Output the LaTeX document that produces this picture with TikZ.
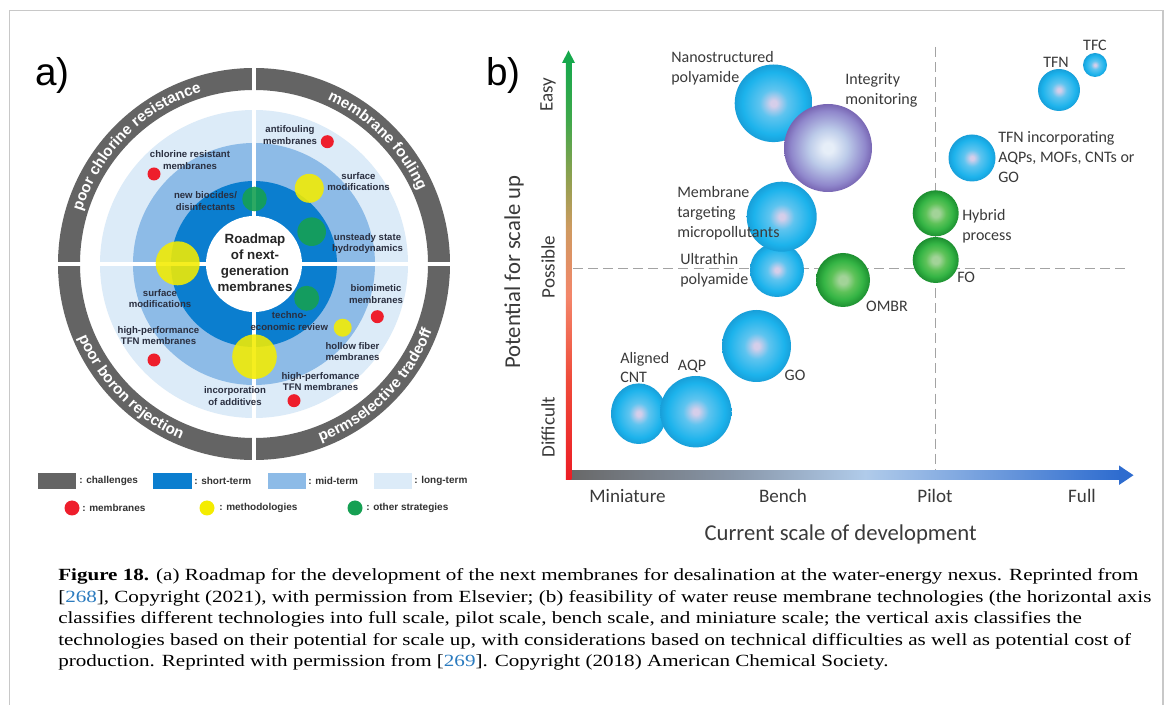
\documentclass[tikz,border=0pt]{standalone}
\usepackage{fontspec}
\usepackage{graphicx}
\setmainfont{Liberation Serif}
\newfontfamily\carlito{Carlito}
\newfontfamily\lsans{Liberation Sans}
\usetikzlibrary{decorations.text}

\definecolor{cgray}{HTML}{646464}
\definecolor{longt}{HTML}{DCEBF8}
\definecolor{midt}{HTML}{8DBBE7}
\definecolor{shortt}{HTML}{0B7ECF}
\definecolor{dred}{HTML}{EE1E2C}
\definecolor{dyel}{HTML}{F4EC00}
\definecolor{dgrn}{HTML}{16A053}
\definecolor{labcol}{HTML}{2A2F40}
\definecolor{legcol}{HTML}{333333}
\definecolor{btext}{HTML}{3A3A3A}
\definecolor{dashcol}{HTML}{A3A3A3}
\definecolor{framecol}{HTML}{C8C8C8}
\definecolor{linkblue}{HTML}{2B7BBF}
\definecolor{cyA}{HTML}{D5CEEA}
\definecolor{cyB}{HTML}{5EC4EF}
\definecolor{cyC}{HTML}{1CB3EC}
\definecolor{cyD}{HTML}{189FD9}
\definecolor{puA}{HTML}{E6EEF8}
\definecolor{puB}{HTML}{BCCBE9}
\definecolor{puC}{HTML}{9088CC}
\definecolor{puD}{HTML}{7866B3}
\definecolor{grA}{HTML}{A2D398}
\definecolor{grB}{HTML}{5EC259}
\definecolor{grC}{HTML}{35B545}
\definecolor{grD}{HTML}{1C8F30}
\definecolor{vr0}{HTML}{EC1C24}
\definecolor{vr1}{HTML}{EF4B3A}
\definecolor{vr2}{HTML}{F3866A}
\definecolor{vr3}{HTML}{CF9A60}
\definecolor{vr4}{HTML}{8FA04F}
\definecolor{vr5}{HTML}{3FA84B}
\definecolor{vr6}{HTML}{16A84C}
\definecolor{ha0}{HTML}{676767}
\definecolor{ha1}{HTML}{8896A8}
\definecolor{ha2}{HTML}{B0CBEA}
\definecolor{ha3}{HTML}{2E6CCF}

\pgfdeclareradialshading{cyanbub}{\pgfpoint{0bp}{0bp}}{color(0bp)=(cyA); color(2bp)=(cyA); color(9bp)=(cyB); color(20bp)=(cyC); color(25bp)=(cyD); color(50bp)=(cyD)}
\pgfdeclareradialshading{purpbub}{\pgfpoint{0bp}{0bp}}{color(0bp)=(puA); color(3bp)=(puA); color(11bp)=(puB); color(21bp)=(puC); color(25bp)=(puD); color(50bp)=(puD)}
\pgfdeclareradialshading{grnbub}{\pgfpoint{0bp}{0bp}}{color(0bp)=(grA); color(4bp)=(grA); color(11bp)=(grB); color(18bp)=(grC); color(25bp)=(grD); color(50bp)=(grD)}
\pgfdeclareverticalshading{vaxis}{100bp}{color(0bp)=(vr0); color(25bp)=(vr0); color(37bp)=(vr1); color(47bp)=(vr2); color(55bp)=(vr3); color(61bp)=(vr4); color(68bp)=(vr5); color(75bp)=(vr6); color(100bp)=(vr6)}
\pgfdeclarehorizontalshading{haxis}{100bp}{color(0bp)=(ha0); color(25bp)=(ha0); color(40bp)=(ha1); color(52bp)=(ha2); color(75bp)=(ha3); color(100bp)=(ha3)}

\newcommand\ringfont{\lsans\bfseries\fontsize{11.4}{13}\selectfont\color{white}}
\newcommand\capfont{\fontsize{12.8}{15}\selectfont}
\newsavebox\capboxA
\newsavebox\capboxB

\tikzset{
  lab/.style={font=\lsans\bfseries\fontsize{7.2}{8.6}\selectfont, text=labcol, align=center, inner sep=0pt},
  leg/.style={font=\lsans\bfseries\fontsize{7.5}{9}\selectfont, text=legcol, anchor=west, inner sep=0pt},
  blab/.style={font=\carlito\fontsize{12}{15}\selectfont, text=btext, align=left, inner sep=0pt},
  tick/.style={font=\carlito\fontsize{14.3}{17}\selectfont, text=btext, inner sep=0pt},
  atitle/.style={font=\carlito\fontsize{17}{20}\selectfont, text=btext, inner sep=0pt},
  dashln/.style={draw=dashcol, line width=1.1pt, dash pattern=on 7.5pt off 3.8pt},
  capline/.style={anchor=base west, inner sep=0pt},
  ringtxt/.style={decorate, decoration={text along path, text align=center, text={|\ringfont|#1}}},
  panlab/.style={font=\lsans\fontsize{29}{32}\selectfont, anchor=base west, inner sep=0pt},
}

\begin{document}
\sbox\capboxA{\capfont\textbf{Figure 18.} (a) Roadmap for the development of the next membranes for desalination at the water-energy nexus. Reprinted from}%
\sbox\capboxB{\capfont[{\color{linkblue}268}], Copyright (2021), with permission from Elsevier; (b) feasibility of water reuse membrane technologies (the horizontal axis}%
\pgfmathsetmacro\capsx{1630/(\the\wd\capboxA+\the\wd\capboxB)}%
\begin{tikzpicture}[x=0.75pt,y=0.75pt]
\useasboundingbox (0,0) rectangle (1168,-705);
\fill[white] (0,0) rectangle (1168,-705);
\draw[framecol, line width=1.1pt] (9.5,-705) -- (9.5,-10.5) -- (1163,-10.5) -- (1163,-705);

% ---------------- panel a ----------------
\node[panlab] (alab) at (35,-86) {a)};

\begin{scope}[shift={(254,-264)}]
  \fill[cgray, even odd rule] (0,0) circle (196) (0,0) circle (174);
  \fill[longt] (0,0) circle (154);
  \fill[midt] (0,0) circle (121);
  \fill[shortt] (0,0) circle (83);
  \draw[white, line width=2.3pt] (-158,0) -- (158,0) (0,-158) -- (0,158);
  \draw[white, line width=3.4pt] (-200,0) -- (-170,0) (170,0) -- (200,0) (0,-200) -- (0,-170) (0,170) -- (0,200);
  \fill[white] (0,0) circle (48);

  % dots
  \fill[dred] (73.3,122.3) circle (6.5);
  \fill[dred] (-100,90) circle (6.5);
  \fill[dred] (123.3,-52.7) circle (6.5);
  \fill[dred] (40,-136.7) circle (6.5);
  \fill[dred] (-100,-96) circle (6.5);
  \fill[dyel, opacity=0.88] (55.3,75.7) circle (14.5);
  \fill[dyel, opacity=0.88] (-76.3,0.7) circle (22);
  \fill[dyel, opacity=0.88] (88.7,-63.7) circle (9);
  \fill[dyel, opacity=0.88] (0.5,-92.7) circle (22.3);
  \fill[dgrn, opacity=0.9] (0.5,65) circle (12.3);
  \fill[dgrn, opacity=0.9] (57.7,32.3) circle (14.3);
  \fill[dgrn, opacity=0.9] (52.7,-34.3) circle (12.5);

  % centre
  \node[align=center, font=\lsans\bfseries\fontsize{10}{12}\selectfont, text=black!85] (road) at (1,1.6) {Roadmap\\of next-\\generation\\membranes};

  % labels
  \node[lab] (l1) at (36,128.7) {antifouling\\membranes};
  \node[lab] (l2) at (-64,104) {chlorine resistant\\membranes};
  \node[lab] (l3) at (104.5,82.3) {surface\\modifications};
  \node[lab] (l4) at (-48.5,62.7) {new biocides/\\disinfectants};
  \node[lab] (l5) at (113.5,20.5) {unsteady state\\hydrodynamics};
  \node[lab] (l6) at (-94,-34.5) {surface\\modifications};
  \node[lab] (l7) at (35.3,-57.2) {techno-\\economic review};
  \node[lab] (l8) at (98.5,-87.7) {hollow fiber\\membranes};
  \node[lab] (l9) at (122,-30.2) {biomimetic\\membranes};
  \node[lab] (l10) at (-19,-132.2) {incorporation\\of additives};
  \node[lab] (l11) at (66.5,-117.8) {high-perfomance\\TFN membranes};
  \node[lab] (l12) at (-95.5,-71.8) {high-performance\\TFN membranes};

  % ring texts
  \path[ringtxt={poor chlorine resistance}] (178:180) arc[start angle=178, end angle=92, radius=180];
  \path[ringtxt={membrane fouling}] (88:180) arc[start angle=88, end angle=2, radius=180];
  \path[ringtxt={poor boron rejection}] (182:190) arc[start angle=182, end angle=268, radius=190];
  \path[ringtxt={permselective tradeoff}] (272:190) arc[start angle=272, end angle=358, radius=190];
\end{scope}

% legend
\fill[cgray] (38,-473) rectangle (76,-489);
\node[leg] (g1) at (79,-481) {: challenges};
\fill[shortt] (153,-473) rectangle (192,-489);
\node[leg] (g2) at (194,-481) {: short-term};
\fill[midt] (268,-473) rectangle (306,-489);
\node[leg] (g3) at (308,-481) {: mid-term};
\fill[longt] (374,-473) rectangle (412,-489);
\node[leg] (g4) at (414,-481) {: long-term};
\fill[dred] (72,-508) circle (7.5);
\node[leg] (g5) at (82,-508) {: membranes};
\fill[dyel] (207,-508) circle (7.5);
\node[leg] (g6) at (219,-508) {: methodologies};
\fill[dgrn] (355,-508) circle (7.5);
\node[leg] (g7) at (366,-508) {: other strategies};

% ---------------- panel b ----------------
\node[panlab] (blab) at (486,-86) {b)};

% dashed lines
\draw[dashln] (573,-268.5) -- (1128,-268.5);
\draw[dashln] (935.5,-47) -- (935.5,-470);

% bubbles
\shade[shading=cyanbub] (773.5,-103.3) circle (38.8);
\shade[shading=purpbub] (828,-148) circle (44);
\shade[shading=cyanbub] (777,-270) circle (27);
\shade[shading=cyanbub] (781.7,-216.7) circle (35);
\shade[shading=grnbub] (843,-280) circle (27);
\shade[shading=grnbub] (935.7,-213.3) circle (23);
\shade[shading=grnbub] (935.7,-260) circle (23);
\shade[shading=cyanbub] (972,-158) circle (23.5);
\shade[shading=cyanbub] (1059,-90) circle (21);
\shade[shading=cyanbub] (1095,-65) circle (12);
\shade[shading=cyanbub] (756.5,-346) ellipse [x radius=34.5, y radius=36];
\shade[shading=cyanbub] (638.7,-413.7) ellipse [x radius=27.7, y radius=30.3];
\shade[shading=cyanbub] (695.8,-411.7) circle (35.7);

% bubble labels
\node[blab, anchor=west] (b1) at (671,-68) {Nanostructured\\polyamide};
\node[blab, anchor=west] (b2) at (845,-90) {Integrity\\monitoring};
\node[blab, anchor=west] (b3) at (677,-213) {Membrane\\targeting\\micropollutants};
\node[blab, anchor=west] (b4) at (680,-270) {Ultrathin\\polyamide};
\node[blab] (b5) at (887,-306) {OMBR};
\node[blab, anchor=west] (b6) at (962,-226.5) {Hybrid\\process};
\node[blab, anchor=west] (b7) at (957,-277) {FO};
\node[blab, anchor=west] (b8) at (998,-157) {TFN incorporating\\AQPs, MOFs, CNTs or\\GO};
\node[blab] (b9) at (1056,-62) {TFN};
\node[blab] (b10) at (1095,-45) {TFC};
\node[blab, anchor=west, font=\carlito\fontsize{12}{14.3}\selectfont] (b11) at (620,-367.8) {Aligned\\CNT};
\node[blab] (b12) at (692,-366) {AQP};
\node[blab] (b13) at (795,-375) {GO};

% axes
\shade[shading=haxis] (566,-470.5) rectangle (1120,-480);
\fill[ha3] (1119,-465.5) -- (1133.5,-475.2) -- (1119,-485) -- cycle;
\shade[shading=vaxis] (565.8,-480) rectangle (571.3,-61);
\fill[vr6] (562,-63) -- (568.5,-50.5) -- (575,-63) -- cycle;

% axis texts
\node[tick] (t1) at (627.5,-496) {Miniature};
\node[tick] (t2) at (783,-496) {Bench};
\node[tick] (t3) at (935,-496) {Pilot};
\node[tick] (t4) at (1082,-496) {Full};
\node[atitle] (xt) at (840.6,-534) {Current scale of development};
\node[tick, rotate=90] (v1) at (548,-95) {Easy};
\node[tick, rotate=90] (v2) at (548,-267) {Possible};
\node[tick, rotate=90] (v3) at (548,-427) {Difficult};
\node[atitle, rotate=90] (yt) at (514,-272) {Potential for scale up};

% ---------------- caption ----------------
\node[capline] (c1) at (58,-580.5) {\scalebox{\capsx}[1]{\usebox\capboxA}};
\node[capline] (c2) at (58,-602.1) {\scalebox{\capsx}[1]{\usebox\capboxB}};
\node[capline] (c3) at (58,-623.7) {\scalebox{\capsx}[1]{\capfont classifies different technologies into full scale, pilot scale, bench scale, and miniature scale; the vertical axis classifies the}};
\node[capline] (c4) at (58,-645.3) {\scalebox{\capsx}[1]{\capfont technologies based on their potential for scale up, with considerations based on technical difficulties as well as potential cost of}};
\node[capline] (c5) at (58,-666.9) {\scalebox{\capsx}[1]{\capfont production. Reprinted with permission from [{\color{linkblue}269}]. Copyright (2018) American Chemical Society.}};
\end{tikzpicture}
\end{document}
